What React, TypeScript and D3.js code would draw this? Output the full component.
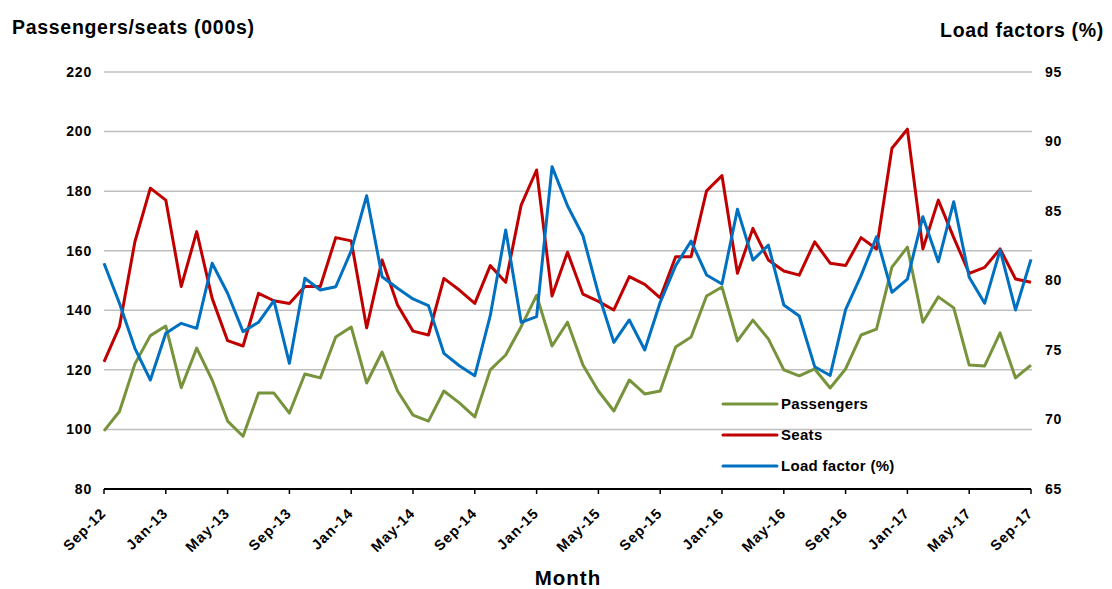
import React from "react";
import * as d3 from "d3";

const months: string[] = [];
{
  const names = ["Jan","Feb","Mar","Apr","May","Jun","Jul","Aug","Sep","Oct","Nov","Dec"];
  for (let i = 0; i <= 60; i++) {
    const m = (8 + i) % 12;
    const y = 12 + Math.floor((8 + i) / 12);
    months.push(`${names[m]}-${y}`);
  }
}

const passengers = [
  99.5, 106, 122, 131.5, 134.7, 114, 127.3, 116.6, 102.8, 97.7, 112.2, 112.2,
  105.5, 118.6, 117.3, 131, 134.4, 115.6, 126, 112.9, 104.8, 102.8, 112.9, 108.9,
  104.2, 120, 125, 134.5, 145, 128, 136, 121.6, 112.9, 106.2, 116.6, 111.9,
  112.9, 127.7, 131, 144.8, 147.8, 129.7, 136.7, 130.4, 120, 118, 120.3, 113.9,
  120.3, 131.7, 133.7, 154.5, 161.2, 136, 144.5, 140.8, 121.6, 121.3, 132.4, 117.3,
  121.6,
];

const seats = [
  122.7, 134.5, 163, 181, 177, 148, 166.4, 144, 129.8, 128, 145.7, 143.2,
  142.3, 148, 148, 164.4, 163.3, 134.1, 156.9, 141.8, 133, 131.7, 150.7, 146.8,
  142.3, 155, 149.4, 175.3, 187.1, 144.8, 159.5, 145.4, 143, 140.1, 151.3, 148.7,
  144.2, 158, 158, 180.1, 185.2, 152.4, 167.5, 156.9, 153.2, 151.8, 163, 155.8,
  155, 164.4, 160.6, 194.4, 200.8, 160.6, 177, 164.4, 152.4, 154.4, 160.6, 150.5,
  149.4,
];

const loadFactor = [
  81.24, 78.36, 75.12, 72.84, 76.2, 76.92, 76.56, 81.24, 79.08, 76.32, 76.99, 78.55,
  74.04, 80.16, 79.32, 79.55, 82.13, 86.1, 80.27, 79.44, 78.67, 78.19, 74.76, 73.87,
  73.15, 77.47, 83.63, 76.99, 77.4, 88.19, 85.38, 83.22, 79.05, 75.55, 77.16, 75,
  78.43, 81.07, 82.84, 80.4, 79.75, 85.12, 81.47, 82.55, 78.24, 77.45, 73.8, 73.17,
  77.9, 80.35, 83.15, 79.15, 80.1, 84.59, 81.35, 85.67, 80.23, 78.36, 82.19, 77.88,
  81.52,
];

const leftTicks = [80, 100, 120, 140, 160, 180, 200, 220];
const rightTicks = [65, 70, 75, 80, 85, 90, 95];
const tickEvery = 4;

const W = 1112;
const H = 589;
const x0 = 104;
const x1 = 1031;
const yTop = 72;
const yBot = 489;

const GREEN = "#77933C";
const RED = "#C00000";
const BLUE = "#0070C0";
const FONT = "Arial, 'Liberation Sans', sans-serif";

export default function App() {
  const x = d3.scaleLinear().domain([0, months.length - 1]).range([x0, x1]);
  const yL = d3.scaleLinear().domain([80, 220]).range([yBot, yTop]);
  const yR = d3.scaleLinear().domain([65, 95]).range([yBot, yTop]);

  const lineL = d3.line<number>().x((_, i) => x(i)).y((d) => yL(d));
  const lineR = d3.line<number>().x((_, i) => x(i)).y((d) => yR(d));

  const tickIdx = months.map((_, i) => i).filter((i) => i % tickEvery === 0);

  const legend = [
    { label: "Passengers", color: GREEN, y: 404 },
    { label: "Seats", color: RED, y: 435 },
    { label: "Load factor (%)", color: BLUE, y: 466 },
  ];

  return (
    <svg
      width={W}
      height={H}
      style={{ position: "absolute", left: 0, top: 0, background: "#fff" }}
      fontFamily={FONT}
    >
      <rect width={W} height={H} fill="#fff" />
      {leftTicks.slice(1).map((t) => (
        <line key={t} x1={x0} x2={x1 + 1} y1={yL(t)} y2={yL(t)} stroke="#BFBFBF" strokeWidth={1.5} />
      ))}
      {leftTicks.map((t) => (
        <text key={t} x={92} y={yL(t)} dy="0.35em" textAnchor="end" fontSize={14} fontWeight="bold" letterSpacing={0.8}>
          {t}
        </text>
      ))}
      {rightTicks.map((t) => (
        <text key={t} x={1045} y={yR(t)} dy="0.35em" textAnchor="start" fontSize={14} fontWeight="bold" letterSpacing={0.8}>
          {t}
        </text>
      ))}
      <line x1={x0} x2={x1} y1={yBot} y2={yBot} stroke="#000" strokeWidth={2} />
      {tickIdx.map((i) => (
        <g key={i}>
          <line x1={x(i)} x2={x(i)} y1={yBot} y2={yBot + 5} stroke="#000" strokeWidth={1.5} />
          <text
            transform={`translate(${x(i) + 3},${yBot + 25}) rotate(-45)`}
            textAnchor="end"
            fontSize={14.5}
            fontWeight="bold"
            letterSpacing={1}
          >
            {months[i]}
          </text>
        </g>
      ))}
      <path d={lineL(passengers) || ""} fill="none" stroke={GREEN} strokeWidth={3} strokeLinejoin="round" />
      <path d={lineL(seats) || ""} fill="none" stroke={RED} strokeWidth={3} strokeLinejoin="round" />
      <path d={lineR(loadFactor) || ""} fill="none" stroke={BLUE} strokeWidth={3} strokeLinejoin="round" />
      {legend.map((l) => (
        <g key={l.label}>
          <line x1={723} x2={777} y1={l.y} y2={l.y} stroke={l.color} strokeWidth={3} strokeLinecap="round" />
          <text x={781} y={l.y} dy="0.35em" fontSize={15} fontWeight="bold" letterSpacing={0.3}>
            {l.label}
          </text>
        </g>
      ))}
      <text x={12} y={27} dy="0.35em" fontSize={19.5} fontWeight="bold" letterSpacing={0.7}>
        Passengers/seats (000s)
      </text>
      <text x={1104} y={30} dy="0.35em" textAnchor="end" fontSize={19.5} fontWeight="bold" letterSpacing={0.7}>
        Load factors (%)
      </text>
      <text x={568} y={585} textAnchor="middle" fontSize={20.5} fontWeight="bold" letterSpacing={1}>
        Month
      </text>
    </svg>
  );
}
